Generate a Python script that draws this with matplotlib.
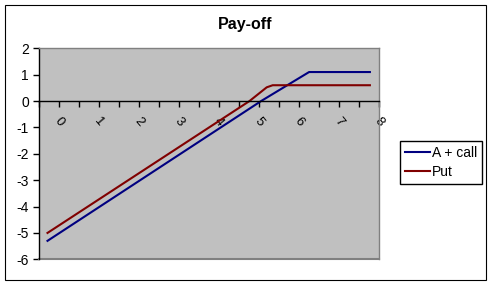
import matplotlib
matplotlib.use("Agg")
import matplotlib.pyplot as plt
from matplotlib.patches import Rectangle
from matplotlib.ticker import MultipleLocator

# data
call_x = [-0.28, 5.06, 6.26, 7.78]
call_y = [-5.3, 0.0, 1.1, 1.1]
put_x = [-0.28, 4.77, 5.2, 5.35, 7.78]
put_y = [-5.0, 0.0, 0.52, 0.6, 0.6]
x_ticks = [0, 1, 2, 3, 4, 5, 6, 7, 8]
y_ticks = [-6, -5, -4, -3, -2, -1, 0, 1, 2]

plt.rcParams["font.family"] = ["Liberation Sans", "DejaVu Sans"]
plt.rcParams["axes.unicode_minus"] = False

W, H, DPI = 489, 301, 100
fig = plt.figure(figsize=(W / DPI, H / DPI), dpi=DPI)

# outer chart frame
fig.patches.append(Rectangle((5 / W, 1 - 280 / H), 481 / W, 275 / H,
                             transform=fig.transFigure, fill=False,
                             edgecolor="black", linewidth=0.8))

ax = fig.add_axes([38.7 / W, 1 - 259.3 / H, 340 / W, 211 / H])
ax.set_facecolor("#C0C0C0")

ax.plot(call_x, call_y, color="#000080", linewidth=1.5, label="A + call")
ax.plot(put_x, put_y, color="#800000", linewidth=1.5, label="Put")

ax.set_xlim(-0.5, 8)
ax.set_ylim(-6, 2)
ax.set_yticks(y_ticks)
ax.set_xticks(x_ticks)
ax.xaxis.set_minor_locator(MultipleLocator(0.5))

for s in ["top", "right"]:
    ax.spines[s].set_color("#808080")
    ax.spines[s].set_linewidth(1)
ax.spines["left"].set_color("black")
ax.spines["left"].set_linewidth(1)
ax.spines["bottom"].set_position(("data", 0))
ax.spines["bottom"].set_color("black")
ax.spines["bottom"].set_linewidth(1)
# gray bottom edge of the plot area
ax.plot([0, 1], [0, 0], transform=ax.transAxes, color="#808080",
        linewidth=1.5, clip_on=False)

ax.tick_params(axis="y", direction="out", length=4, width=1, labelsize=10, pad=3)
ax.tick_params(axis="x", which="both", direction="out", length=4, width=1)
ax.tick_params(axis="x", which="major", labelsize=9.5, pad=6)
for lbl in ax.get_xticklabels():
    lbl.set_rotation(-50)

fig.text(245 / W, 1 - 25 / H, "Pay-off", ha="center", va="center",
         fontsize=11.5, fontweight="bold")

leg = fig.legend(loc="center", bbox_to_anchor=(0.9025, 0.4605), fontsize=10,
                 fancybox=False, framealpha=1, edgecolor="black",
                 handlelength=1.8, handletextpad=0.15, borderpad=0.35,
                 labelspacing=0.4, borderaxespad=0)
leg.get_frame().set_linewidth(1)

fig.savefig("out.png", dpi=DPI)
